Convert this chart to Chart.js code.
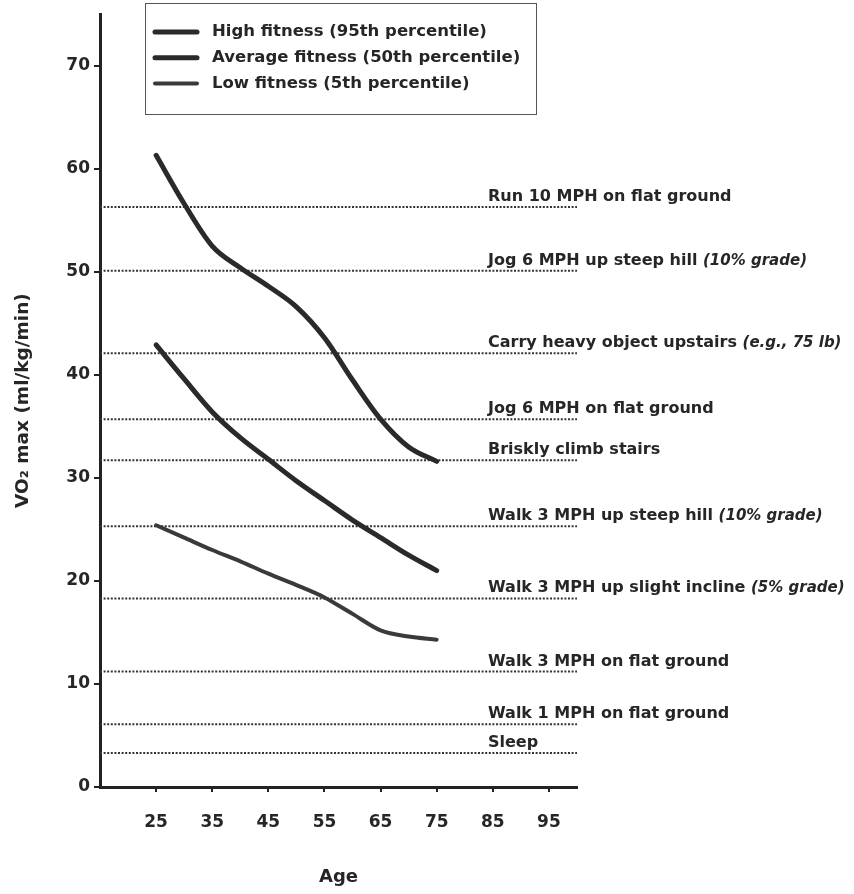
<!DOCTYPE html>
<html><head><meta charset="utf-8">
<script src="https://cdn.jsdelivr.net/npm/chart.js@4/dist/chart.umd.min.js"></script>
<style>html,body{margin:0;padding:0;background:#fff}canvas{display:block}</style>
</head><body>
<canvas id="c" width="854" height="894"></canvas>
<script>
const ages = [25,30,35,40,45,50,55,60,65,70,75];
const highFitness = [61.3,56.6,52.5,50.4,48.6,46.6,43.6,39.5,35.7,33.0,31.6];
const averageFitness = [42.9,39.6,36.4,33.9,31.8,29.7,27.8,25.9,24.2,22.5,21.0];
const lowFitness = [25.4,24.2,23.0,21.9,20.7,19.6,18.4,16.8,15.2,14.6,14.3];
const seriesLabels = ['High fitness (95th percentile)','Average fitness (50th percentile)','Low fitness (5th percentile)'];
const activityValues = [56.3,50.1,42.1,35.7,31.7,25.3,18.3,11.2,6.1,3.3];
const activityLabels = [
  ['Run 10 MPH on flat ground',''],
  ['Jog 6 MPH up steep hill ','(10% grade)'],
  ['Carry heavy object upstairs ','(e.g., 75 lb)'],
  ['Jog 6 MPH on flat ground',''],
  ['Briskly climb stairs',''],
  ['Walk 3 MPH up steep hill ','(10% grade)'],
  ['Walk 3 MPH up slight incline ','(5% grade)'],
  ['Walk 3 MPH on flat ground',''],
  ['Walk 1 MPH on flat ground',''],
  ['Sleep','']
];
const xTicks = [25,35,45,55,65,75,85,95];
const yTicks = [0,10,20,30,40,50,60,70];
const ageRange = [15,100];
const vo2Range = [0,75];

const FONT = "'DejaVu Sans', sans-serif";
Chart.defaults.font.family = FONT;
Chart.defaults.color = '#222';

const curveStyles = [
  {color:'#2a2a2a', width:5},
  {color:'#2a2a2a', width:5},
  {color:'#3a3a3a', width:4}
];
const seriesValues = [highFitness, averageFitness, lowFitness];

const datasets = seriesValues.map((vals, s) => ({
  label: seriesLabels[s],
  data: ages.map((a, i) => ({x: a, y: vals[i]})),
  borderColor: curveStyles[s].color,
  borderWidth: curveStyles[s].width,
  borderCapStyle: 'round',
  borderJoinStyle: 'round',
  cubicInterpolationMode: 'monotone',
  pointRadius: 0,
  fill: false,
  order: 0
}));
activityValues.forEach((v, i) => {
  datasets.push({
    label: 'ref' + i,
    data: [{x: ageRange[0], y: v}, {x: ageRange[1], y: v}],
    borderColor: '#333',
    borderWidth: 2,
    borderDash: [2, 1.6],
    pointRadius: 0,
    fill: false,
    order: 1
  });
});

const overlay = {
  id: 'overlay',
  afterDraw(chart) {
    const {ctx, scales: {x, y}} = chart;
    ctx.save();
    ctx.fillStyle = '#262626';
    ctx.textBaseline = 'alphabetic';
    ctx.textAlign = 'left';
    const lx = x.right - 89;
    activityValues.forEach((v, i) => {
      const py = y.getPixelForValue(v) - 6;
      const [a, b] = activityLabels[i];
      ctx.font = "bold 16px " + FONT;
      ctx.fillText(a, lx, py);
      if (b) {
        const w = ctx.measureText(a).width;
        ctx.font = "italic bold 15px " + FONT;
        ctx.fillText(b, lx + w, py);
      }
    });
    // legend box
    ctx.strokeStyle = '#555';
    ctx.lineWidth = 1;
    ctx.strokeRect(145.5, 3.5, 391, 111);
    ctx.textBaseline = 'middle';
    seriesLabels.forEach((lab, i) => {
      const ly = 32 + i * 25.7;
      ctx.strokeStyle = curveStyles[i].color;
      ctx.lineWidth = curveStyles[i].width;
      ctx.lineCap = 'round';
      ctx.beginPath();
      ctx.moveTo(155, ly);
      ctx.lineTo(197, ly);
      ctx.stroke();
      ctx.fillStyle = '#262626';
      ctx.font = "bold 16.5px " + FONT;
      ctx.fillText(lab, 212, ly);
    });
    ctx.restore();
  }
};

new Chart(document.getElementById('c'), {
  type: 'line',
  data: {datasets},
  plugins: [overlay],
  options: {
    responsive: false,
    devicePixelRatio: 1,
    animation: false,
    layout: {padding: {left: 0, right: 277, top: 12, bottom: 0}},
    plugins: {legend: {display: false}, tooltip: {enabled: false}},
    scales: {
      x: {
        type: 'linear',
        min: ageRange[0], max: ageRange[1],
        afterBuildTicks: s => { s.ticks = xTicks.map(v => ({value: v})); },
        afterFit: s => { s.height = 107; },
        grid: {drawOnChartArea: false, tickLength: 5, color: '#222', lineWidth: 2},
        border: {display: true, width: 3, color: '#222'},
        ticks: {font: {size: 17, weight: 'bold'}, padding: 20, maxRotation: 0, color: '#262626'},
        title: {display: true, text: 'Age', font: {size: 18, weight: 'bold'}, padding: {top: 0, bottom: 6}, color: '#262626'}
      },
      y: {
        type: 'linear',
        min: vo2Range[0], max: vo2Range[1],
        afterBuildTicks: s => { s.ticks = yTicks.map(v => ({value: v})); },
        afterFit: s => { s.width = 100; },
        grid: {drawOnChartArea: false, tickLength: 6, color: '#222', lineWidth: 2},
        border: {display: true, width: 3, color: '#222'},
        ticks: {font: {size: 17, weight: 'bold'}, padding: 4, color: '#262626'},
        title: {display: true, text: 'VO₂ max (ml/kg/min)', font: {size: 18.5, weight: 'bold'}, padding: {top: 12, bottom: 0}, color: '#262626'}
      }
    }
  }
});
</script>
</body></html>
